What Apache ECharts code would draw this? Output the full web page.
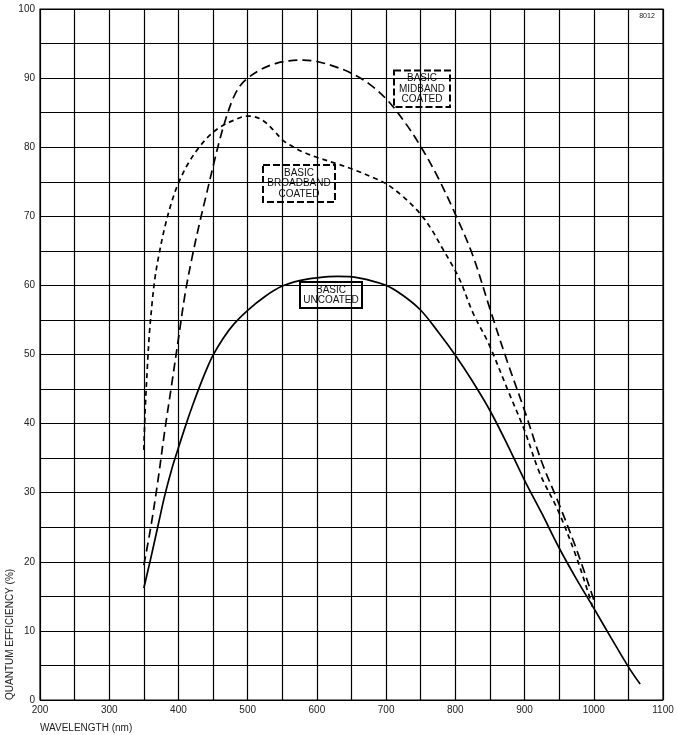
<!DOCTYPE html>
<html>
<head>
<meta charset="utf-8">
<title>Quantum efficiency</title>
<script src="https://cdn.jsdelivr.net/npm/echarts@6/dist/echarts.min.js"></script>
<style>
    html, body { margin: 0; padding: 0; background: #fff; }
    #chart { width: 677px; height: 735px; }
</style>
</head>
<body>
<div id="chart"></div>
<script>
    // wavelength (nm) / quantum efficiency (%)
    var uncoatedNm = [350, 360, 370, 380, 390, 400, 410, 420, 430, 440, 450, 465, 480, 500, 525, 550, 575, 600, 630, 660, 700, 725, 750, 775, 800, 825, 850, 875, 900, 925, 950, 975, 1000, 1025, 1050, 1067];
    var uncoatedQe = [16.2, 20.5, 25, 29.5, 33.3, 36.5, 39.6, 42.5, 45.2, 47.7, 49.9, 52.4, 54.4, 56.4, 58.4, 59.9, 60.7, 61.1, 61.3, 61.1, 60, 58.5, 56.4, 53.3, 49.9, 46.1, 41.9, 37, 31.8, 27, 22, 17.5, 13.3, 9, 4.8, 2.3];

    var midbandNm = [350, 360, 370, 380, 390, 400, 410, 420, 430, 440, 450, 460, 470, 480, 490, 500, 520, 540, 560, 580, 600, 625, 650, 675, 700, 725, 750, 775, 800, 825, 850, 875, 900, 925, 950, 975, 1000];
    var midbandQe = [19.5, 25, 31.5, 38.8, 45.5, 52.3, 59, 64.2, 68.8, 73, 77.2, 81.2, 84.6, 87.3, 89, 90, 91.3, 92.1, 92.5, 92.6, 92.4, 91.7, 90.7, 89.2, 87, 83.9, 80.1, 75.6, 70.3, 64.4, 56.6, 49, 41.9, 34.4, 28.3, 21.8, 14.5];

    var broadbandNm = [350, 352, 355, 358, 362, 366, 371, 380, 390, 400, 415, 430, 445, 460, 480, 499, 510, 523, 537, 551, 565, 580, 601, 629, 652, 686, 702, 725, 749, 765, 780, 795, 807, 826, 848, 876, 900, 922, 948, 973, 994, 998];
    var broadbandQe = [36.2, 42, 48, 53, 57.5, 61, 64, 68.3, 72, 74.8, 77.8, 80, 81.7, 82.9, 83.9, 84.5, 84.4, 83.8, 82.5, 81, 80.1, 79.3, 78.5, 77.6, 76.8, 75.4, 74.6, 72.8, 70.4, 68.2, 65.6, 63, 60.7, 55.9, 51.6, 44.8, 39, 32.8, 27.5, 21.2, 14.9, 13.5];

    function pairs(xs, ys) {
        var out = [];
        for (var i = 0; i < xs.length; i++) out.push([xs[i], ys[i]]);
        return out;
    }

    var font = '"Liberation Sans", Arial, sans-serif';
    var gridLine = { lineStyle: { color: '#000', width: 1.2, type: 'solid' } };

    function noteBox(x, y, w, h, lines, dashed) {
        var kids = [{
            type: 'rect',
            shape: { x: x, y: y, width: w, height: h },
            style: { fill: '#fff', stroke: '#000', lineWidth: 2, lineDash: dashed ? [7, 3] : null }
        }];
        var lh = 10.5;
        var top = y + h / 2 - (lines.length - 1) * lh / 2;
        for (var i = 0; i < lines.length; i++) {
            kids.push({
                type: 'text',
                x: x + w / 2, y: top + i * lh,
                style: { text: lines[i], fill: '#111', font: '10px ' + font, textAlign: 'center', textVerticalAlign: 'middle' }
            });
        }
        return { type: 'group', children: kids, z: 100 };
    }

    var chart = echarts.init(document.getElementById('chart'));
    var option = {
        animation: false,
        backgroundColor: '#fff',
        grid: { left: 40, right: 14, top: 9, bottom: 35, show: true, borderColor: '#000', borderWidth: 1.2 },
        xAxis: {
            type: 'value', min: 200, max: 1100, interval: 100,
            axisLine: { show: false }, axisTick: { show: false },
            axisLabel: { color: '#222', fontSize: 10, fontFamily: font, margin: 5, formatter: function (v) { return String(v); } },
            splitLine: gridLine,
            minorTick: { show: false, splitNumber: 2 },
            minorSplitLine: { show: true, lineStyle: { color: '#000', width: 1.2 } }
        },
        yAxis: {
            type: 'value', min: 0, max: 100, interval: 10,
            axisLine: { show: false }, axisTick: { show: false },
            axisLabel: { color: '#222', fontSize: 10, fontFamily: font, margin: 5 },
            splitLine: gridLine,
            minorTick: { show: false, splitNumber: 2 },
            minorSplitLine: { show: true, lineStyle: { color: '#000', width: 1.2 } }
        },
        series: [
            {
                name: 'BASIC UNCOATED', type: 'line', data: pairs(uncoatedNm, uncoatedQe),
                smooth: 0.35, showSymbol: false, z: 5,
                lineStyle: { color: '#000', width: 1.7, type: 'solid' }
            },
            {
                name: 'BASIC MIDBAND COATED', type: 'line', data: pairs(midbandNm, midbandQe),
                smooth: 0.35, showSymbol: false, z: 5,
                lineStyle: { color: '#000', width: 1.7, type: [9, 5] }
            },
            {
                name: 'BASIC BROADBAND COATED', type: 'line', data: pairs(broadbandNm, broadbandQe),
                smooth: 0.35, showSymbol: false, z: 5,
                lineStyle: { color: '#000', width: 1.7, type: [5, 4] }
            }
        ],
        graphic: [
            noteBox(394, 70.5, 56, 36.5, ['BASIC', 'MIDBAND', 'COATED'], true),
            noteBox(263, 165, 72, 37, ['BASIC', 'BROADBAND', 'COATED'], true),
            noteBox(300, 282, 62, 26, ['BASIC', 'UNCOATED'], false),
            {
                type: 'text', x: 647, y: 16,
                style: { text: '8012', fill: '#222', font: '7px ' + font, textAlign: 'center', textVerticalAlign: 'middle' }
            },
            {
                type: 'text', x: 40, y: 728,
                style: { text: 'WAVELENGTH (nm)', fill: '#222', font: '10px ' + font, textAlign: 'left', textVerticalAlign: 'middle' }
            },
            {
                type: 'text', x: 10, y: 700, rotation: Math.PI / 2,
                style: { text: 'QUANTUM EFFICIENCY (%)', fill: '#222', font: '10px ' + font, textAlign: 'left', textVerticalAlign: 'middle' }
            }
        ]
    };
    chart.setOption(option);
</script>
</body>
</html>
